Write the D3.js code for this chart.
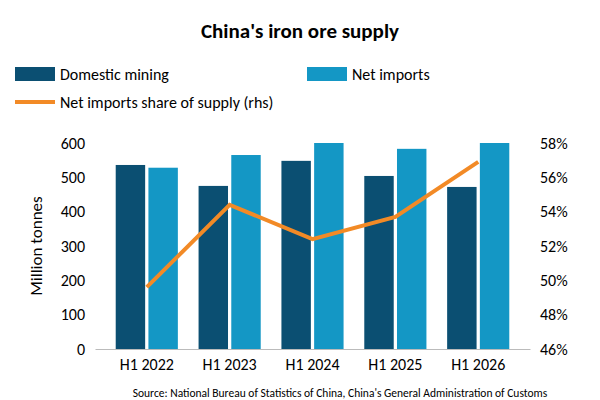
<!DOCTYPE html>
<html><head><meta charset="utf-8">
<script src="https://cdn.jsdelivr.net/npm/d3@7"></script>
<style>body{margin:0;background:#fff;font-family:Calibri,"Liberation Sans",Arial,sans-serif}</style>
</head><body><div id="chart"></div>
<script>
var categories = ["H1 2022", "H1 2023", "H1 2024", "H1 2025", "H1 2026"];
var domestic = [536, 475, 548, 504, 472];
var netImports = [528, 565, 600, 583, 605];
var share = [49.6, 54.4, 52.4, 53.7, 56.9];
var leftTicks = [0, 100, 200, 300, 400, 500, 600];
var rightTicks = [46, 48, 50, 52, 54, 56, 58];

var svg = d3.select("#chart").append("svg").attr("width", 600).attr("height", 400);
var m = {l: 95, r: 530, t: 143, b: 349};
var ff = "Calibri,'Liberation Sans',Arial,sans-serif";

var x = d3.scaleBand().domain(categories).range([m.l, m.r]).padding(0.25);
var xs = d3.scaleBand().domain(["d", "n"]).range([0, x.bandwidth()]).paddingInner(0.1);
var y = d3.scaleLinear().domain([0, 600]).range([m.b, m.t]).clamp(true);
var y2 = d3.scaleLinear().domain([46, 58]).range([m.b, m.t]);

svg.append("text").attr("x", 300).attr("y", 38).attr("text-anchor", "middle")
  .attr("font-size", 21).attr("font-weight", "bold").text("China's iron ore supply");

// legend
var lg = svg.append("g").attr("font-size", 16);
lg.append("rect").attr("x", 15).attr("y", 67).attr("width", 40).attr("height", 14).attr("fill", "#0b4f72");
lg.append("text").attr("x", 60).attr("y", 80).text("Domestic mining");
lg.append("rect").attr("x", 307).attr("y", 67).attr("width", 40).attr("height", 14).attr("fill", "#1497c5");
lg.append("text").attr("x", 352).attr("y", 80).text("Net imports");
lg.append("line").attr("x1", 15).attr("x2", 55).attr("y1", 102).attr("y2", 102).attr("stroke", "#f28a26").attr("stroke-width", 4);
lg.append("text").attr("x", 60).attr("y", 108).text("Net imports share of supply (rhs)");

var g = svg.append("g").selectAll("g").data(categories).join("g")
  .attr("transform", function (d) { return "translate(" + x(d) + ",0)"; });
g.append("rect").attr("x", xs("d")).attr("width", xs.bandwidth())
  .attr("y", function (d, i) { return y(domestic[i]); })
  .attr("height", function (d, i) { return m.b - y(domestic[i]); }).attr("fill", "#0b4f72");
g.append("rect").attr("x", xs("n")).attr("width", xs.bandwidth())
  .attr("y", function (d, i) { return y(netImports[i]); })
  .attr("height", function (d, i) { return m.b - y(netImports[i]); }).attr("fill", "#1497c5");

var line = d3.line().x(function (d, i) { return x(categories[i]) + x.bandwidth() / 2; })
  .y(function (d) { return y2(d); });
svg.append("path").datum(share).attr("d", line).attr("fill", "none")
  .attr("stroke", "#f28a26").attr("stroke-width", 4);

// axes
var ax = svg.append("g").attr("transform", "translate(0," + m.b + ")")
  .call(d3.axisBottom(x).tickSize(0).tickPadding(10));
ax.select(".domain").attr("stroke", "#bbb");
ax.selectAll("text").attr("font-size", 16).attr("font-family", ff);

var al = svg.append("g").attr("transform", "translate(" + (m.l - 5) + ",0)")
  .call(d3.axisLeft(y).tickValues(leftTicks).tickSize(0).tickPadding(5));
al.select(".domain").remove();
al.selectAll("text").attr("font-size", 16).attr("font-family", ff);

var ar = svg.append("g").attr("transform", "translate(" + (m.r + 5) + ",0)")
  .call(d3.axisRight(y2).tickValues(rightTicks).tickSize(0).tickPadding(5)
    .tickFormat(function (d) { return d + "%"; }));
ar.select(".domain").remove();
ar.selectAll("text").attr("font-size", 16).attr("font-family", ff);

svg.append("text").attr("transform", "translate(42,246) rotate(-90)").attr("text-anchor", "middle")
  .attr("font-size", 17).text("Million tonnes");

svg.append("text").attr("x", 340).attr("y", 397).attr("text-anchor", "middle").attr("font-size", 11.5)
  .text("Source: National Bureau of Statistics of China, China's General Administration of Customs");
</script></body></html>
